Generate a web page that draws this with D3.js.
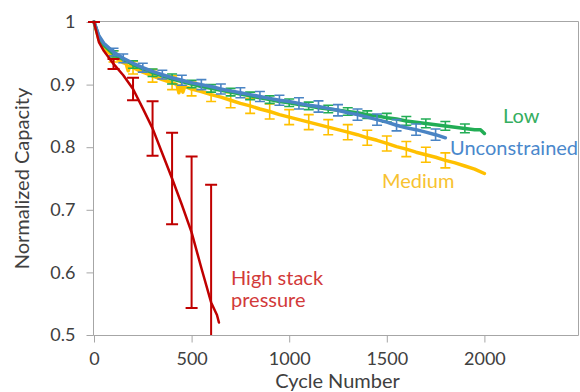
<!DOCTYPE html>
<html><head><meta charset="utf-8">
<script src="https://cdn.jsdelivr.net/npm/d3@7"></script>
<style>body{margin:0;background:#fff} svg{display:block}</style>
</head><body><svg id="c" width="580" height="392"></svg>
<script>
// ---------- data ----------
const xTicks = [0, 500, 1000, 1500, 2000];
const yTicks = [0.5, 0.6, 0.7, 0.8, 0.9, 1];

const lowCycles = [0,25,50,100,150,200,250,300,350,400,450,500,550,600,650,700,750,800,850,900,950,1000,1050,1100,1150,1200,1250,1300,1350,1400,1450,1500,1550,1600,1650,1700,1750,1800,1850,1900,1950,1980,2000];
const lowValues = [1.000,0.976,0.963,0.949,0.940,0.932,0.925,0.919,0.914,0.909,0.905,0.901,0.897,0.894,0.891,0.888,0.885,0.882,0.879,0.876,0.873,0.871,0.868,0.866,0.863,0.861,0.859,0.857,0.855,0.852,0.850,0.847,0.845,0.842,0.840,0.838,0.836,0.834,0.832,0.830,0.828,0.828,0.822];
const lowErrors = [null,null,null,0.005,null,0.006,null,0.006,null,0.008,null,0.006,null,0.006,null,0.006,null,0.006,null,0.006,null,0.006,null,0.006,null,0.006,null,0.006,null,0.006,null,0.007,null,0.007,null,0.007,null,0.007,null,0.007,null,null,null];

const unconCycles = [0,25,50,100,150,200,250,300,350,400,450,500,550,600,650,700,750,800,850,900,950,1000,1050,1100,1150,1200,1250,1300,1350,1400,1450,1500,1550,1600,1650,1700,1750,1800];
const unconValues = [1.000,0.978,0.966,0.952,0.942,0.934,0.927,0.921,0.916,0.911,0.907,0.903,0.900,0.897,0.893,0.890,0.887,0.884,0.881,0.878,0.875,0.873,0.870,0.867,0.865,0.862,0.859,0.855,0.852,0.848,0.844,0.840,0.835,0.831,0.828,0.824,0.820,0.815];
const unconErrors = [null,null,null,0.006,0.007,null,0.007,null,0.007,null,0.008,null,0.008,null,0.008,null,0.008,null,0.008,null,0.008,null,0.009,null,0.009,null,0.009,null,0.009,null,0.009,null,0.009,null,0.009,null,0.009,null];

const medCycles = [0,25,50,100,150,165,175,185,200,250,300,350,400,425,435,445,455,465,500,550,600,650,700,750,800,850,900,950,1000,1050,1100,1150,1200,1250,1300,1350,1400,1450,1500,1550,1600,1650,1700,1750,1800,1850,1900,1950,2000];
const medValues = [1.000,0.972,0.958,0.945,0.935,0.933,0.922,0.931,0.927,0.920,0.914,0.908,0.903,0.900,0.887,0.899,0.888,0.897,0.893,0.889,0.884,0.880,0.875,0.870,0.866,0.861,0.857,0.852,0.848,0.844,0.840,0.836,0.832,0.828,0.824,0.820,0.815,0.811,0.806,0.801,0.797,0.792,0.788,0.784,0.779,0.775,0.770,0.765,0.758];
const medErrors = [null,null,null,0.009,null,null,null,null,0.010,null,0.010,null,0.011,null,null,null,null,null,0.011,null,0.011,null,0.012,null,0.012,null,0.012,null,0.012,null,0.012,null,0.012,null,0.012,null,0.012,null,0.012,null,0.012,null,0.012,null,0.012,null,null,null,null];

const highCycles = [0,25,50,100,150,200,250,300,350,400,450,500,550,600,630,640];
const highValues = [1.000,0.968,0.954,0.933,0.915,0.893,0.862,0.830,0.790,0.750,0.708,0.664,0.607,0.552,0.532,0.520];
const highErrors = [0,null,null,0.008,null,0.018,null,0.0435,null,0.073,null,0.121,null,0.188,null,null];

const seriesNames = ["Medium","Low","Unconstrained","High stack pressure"];
const seriesColors = ["#FFC000","#22AD55","#4A84C4","#C00000"];
const labelColors = ["#F7C231","#35AE60","#4A88CC","#D23A3A"];

// ---------- chart ----------
const svg = d3.select('#c');
const x = d3.scaleLinear().domain([0, 2500]).range([94, 582]);
const y = d3.scaleLinear().domain([0.5, 1]).range([335, 22]);
const FONT = "Lato, 'Open Sans', sans-serif";
const axisCol = "#A6A6A6";

svg.append('defs').append('clipPath').attr('id','plotclip')
  .append('rect').attr('x', 80).attr('y', 15).attr('width', 499).attr('height', 335 - 15);

// frame
svg.append('path')
  .attr('d', `M93.5,335.5V21.5H578.5V335.5H93.5`)
  .attr('fill','none').attr('stroke', axisCol).attr('stroke-width',1);

// axes
const yAxis = svg.append('g').attr('transform','translate(93.5,0)')
  .call(d3.axisLeft(y).tickValues(yTicks).tickSize(7).tickSizeOuter(0).tickPadding(11)
    .tickFormat(d => d === 1 ? '1' : d3.format('.1f')(d)));
const xAxis = svg.append('g').attr('transform','translate(0,335.5)')
  .call(d3.axisBottom(x).tickValues(xTicks).tickSize(7).tickSizeOuter(0).tickPadding(10)
    .tickFormat(d3.format('d')));
[yAxis, xAxis].forEach(g => {
  g.select('.domain').remove();
  g.selectAll('.tick line').attr('stroke', axisCol);
  g.selectAll('.tick text').attr('fill', '#404040').style('font-family', FONT).style('font-size', '18px');
});

const line = d3.line().x(d => x(d.c)).y(d => y(d.v));
const plot = svg.append('g').attr('clip-path','url(#plotclip)');

function drawSeries(cycles, values, errors, color, width, capW, ew) {
  const pts = cycles.map((c, i) => ({c, v: values[i], e: errors[i]}));
  const g = plot.append('g');
  g.append('path').datum(pts).attr('d', line).attr('fill','none')
    .attr('stroke', color).attr('stroke-width', width)
    .attr('stroke-linejoin','round').attr('stroke-linecap','round');
  const eb = pts.filter(d => d.e !== null);
  const bars = g.append('g').attr('stroke', color).attr('stroke-width', ew).attr('fill','none');
  bars.selectAll('path').data(eb).join('path')
    .attr('d', d => {
      const cx = x(d.c), y1 = y(d.v + d.e), y2 = y(d.v - d.e);
      return `M${cx},${y1}V${y2}M${cx - capW/2},${y1}H${cx + capW/2}M${cx - capW/2},${y2}H${cx + capW/2}`;
    });
}

drawSeries(medCycles, medValues, medErrors, seriesColors[0], 3.5, 10, 1.6);
drawSeries(lowCycles, lowValues, lowErrors, seriesColors[1], 3.5, 10, 1.6);
drawSeries(unconCycles, unconValues, unconErrors, seriesColors[2], 3.5, 10, 1.6);
drawSeries(highCycles, highValues, highErrors, seriesColors[3], 2.5, 12, 2);

// series labels
const lab = (t, xx, yy, col) => svg.append('text').attr('x', xx).attr('y', yy).text(t)
  .attr('fill', col).style('font-family', FONT).style('font-size', '20px');
lab('Low', 503, 123, labelColors[1]);
lab('Unconstrained', 450, 155, labelColors[2]);
lab('Medium', 382, 188, labelColors[0]);
lab('High stack', 231, 285, labelColors[3]);
lab('pressure', 231, 307, labelColors[3]);

// axis titles
svg.append('text').attr('transform','translate(29,178.5) rotate(-90)')
  .attr('text-anchor','middle').attr('fill','#404040')
  .style('font-family', FONT).style('font-size','20px').text('Normalized Capacity');
svg.append('text').attr('x', 337.5).attr('y', 388)
  .attr('text-anchor','middle').attr('fill','#404040')
  .style('font-family', FONT).style('font-size','20px').text('Cycle Number');
</script>
</body></html>
